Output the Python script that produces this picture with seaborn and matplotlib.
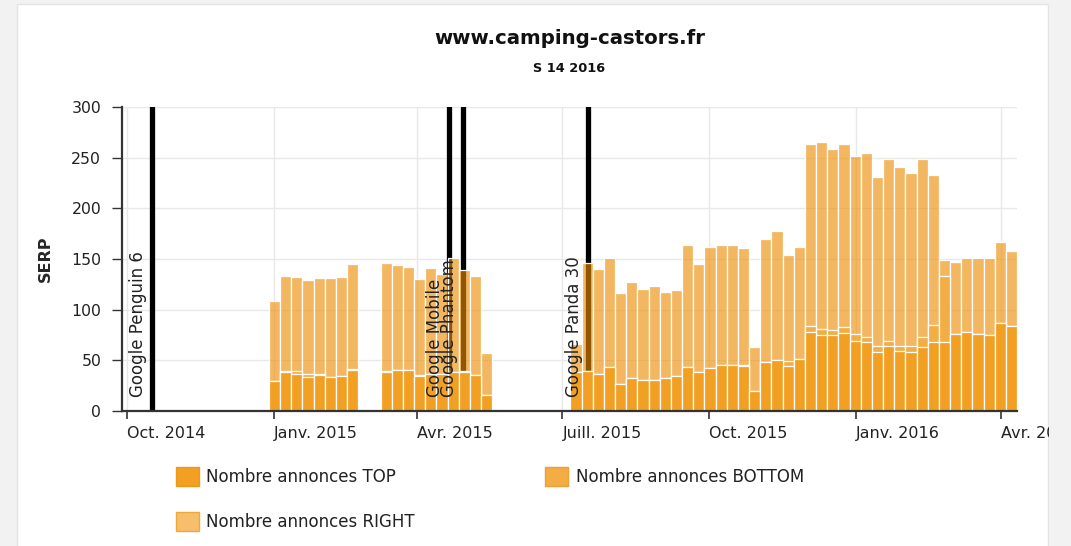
#!/usr/bin/env python3

"""Weekly ad counts (TOP / BOTTOM / RIGHT) for www.camping-castors.fr."""

import datetime as dt

import matplotlib
matplotlib.use('Agg')
import matplotlib.dates as mdates
import matplotlib.pyplot as plt
from matplotlib.patches import Patch, Rectangle
import numpy as np
import pandas as pd
import seaborn as sns


# ISO weeks that have data (gaps = no data)
WEEKS = (
    [f'2015-{w:02d}' for w in range(1, 9)]
    + [f'2015-{w:02d}' for w in range(11, 21)]
    + [f'2015-{w:02d}' for w in range(28, 54)]
    + [f'2016-{w:02d}' for w in range(1, 15)]
)

TOP = [
    30, 38, 37, 34, 36, 34, 35, 40,
    38, 40, 40, 35, 37, 37, 38, 38, 36, 16,
    38, 39, 37, 43, 27, 33, 31, 31, 33, 35, 43, 38, 42, 45, 45, 44, 20, 48, 50, 44, 51,
    78, 75, 75, 77, 69, 68, 58, 64, 59, 58, 63, 68, 68, 76, 78, 76, 75, 87, 84,
]
BOTTOM = [
    0, 1, 2, 3, 1, 0, 0, 1,
    1, 0, 0, 1, 0, 0, 0, 1, 0, 0,
    0, 0, 0, 0, 0, 0, 0, 0, 0, 0, 0, 0, 0, 0, 0, 1, 0, 0, 0, 5, 0,
    6, 6, 5, 6, 7, 5, 6, 5, 5, 6, 10, 17, 65, 0, 0, 0, 0, 0, 0,
]
RIGHT = [
    79, 94, 93, 92, 94, 97, 97, 104,
    107, 104, 102, 94, 104, 98, 113, 100, 97, 41,
    28, 107, 103, 108, 89, 94, 89, 92, 84, 84, 121, 107, 120, 119, 119, 116, 43, 122, 128, 105, 111,
    179, 184, 179, 180, 176, 182, 167, 180, 177, 171, 176, 148, 16, 71, 73, 75, 76, 80, 74,
]

SERIES = ['Nombre annonces TOP', 'Nombre annonces BOTTOM', 'Nombre annonces RIGHT']

UPDATES = ['Google Penguin 6', 'Google Mobile', 'Google Phantom', 'Google Panda 30']
UPDATE_DATES = ['2014-10-17', '2015-04-21', '2015-04-30', '2015-07-17']

TICK_DATES = ['2014-10-01', '2015-01-01', '2015-04-01', '2015-07-01',
              '2015-10-01', '2016-01-01', '2016-04-01']
TICK_LABELS = ['Oct. 2014', 'Janv. 2015', 'Avr. 2015', 'Juill. 2015',
               'Oct. 2015', 'Janv. 2016', 'Avr. 2016']

BG = '#f2f2f2'
C_TOP = '#f2a024'
C_BOTTOM = '#f3ad45'
C_RIGHT = '#ed8c02'
RIGHT_ALPHA = 0.62


def week_monday(label):
    year, week = label.split('-')
    return dt.date.fromisocalendar(int(year), int(week), 1)


def main():
    sns.set_style('white')
    plt.rcParams['font.family'] = ['DejaVu Sans']

    fig = plt.figure(figsize=(10.71, 5.46), dpi=100, facecolor=BG)
    panel = Rectangle((17 / 1071, -0.05), (1048 - 17) / 1071, 1.05 - 4 / 546,
                      transform=fig.transFigure, facecolor='white',
                      edgecolor='#e4e4e4', linewidth=1, zorder=-10)
    fig.patches.append(panel)
    # grey margin on the right sits above the axes, so the last tick label gets cut
    fig.patches.append(Rectangle((1048.5 / 1071, 0), 1, 1, transform=fig.transFigure,
                                 facecolor=BG, edgecolor='none', zorder=10))

    ax = fig.add_axes([122 / 1071, 1 - 411 / 546, (1017 - 122) / 1071, (411 - 107) / 546])
    ax.set_facecolor('none')

    mondays = [week_monday(w) for w in WEEKS]
    first = mdates.date2num(mondays[0])
    last = mdates.date2num(mondays[-1])
    edges = np.arange(first, last + 8, 7).tolist()

    df = pd.DataFrame({'center': mdates.date2num(mondays) + 3.5,
                       'top': TOP, 'bottom': BOTTOM, 'right': RIGHT})
    df['mid'] = df.top + df.bottom
    df['total'] = df.mid + df.right

    # update markers, behind the bars
    for date in UPDATE_DATES:
        ax.axvline(mdates.datestr2num(date), color='black', lw=3.8, zorder=0.8)

    bar_kws = dict(data=df, x='center', bins=edges, edgecolor='white', linewidth=0.9, ax=ax)
    sns.histplot(weights='total', color=C_RIGHT, alpha=RIGHT_ALPHA, **bar_kws)
    sns.histplot(weights='mid', color=C_BOTTOM, alpha=1, **bar_kws)
    sns.histplot(weights='top', color=C_TOP, alpha=1, **bar_kws)

    for name, date in zip(UPDATES, UPDATE_DATES):
        ax.annotate(name, xy=(mdates.datestr2num(date), 0), xytext=(-5, 14),
                    textcoords='offset pixels', rotation=90, ha='right',
                    va='bottom', fontsize=12, color='#222222', zorder=5)

    ax.set_xlim(mdates.datestr2num('2014-09-27 22:00'), last + 7)
    ax.set_ylim(0, 300)
    ax.set_yticks(range(0, 301, 50))
    ax.set_xticks(mdates.datestr2num(TICK_DATES))
    ax.set_xticklabels(TICK_LABELS, ha='left')
    ax.tick_params(axis='x', length=6, width=1.2, color='#333333', pad=5,
                   labelsize=11.5, labelcolor='#222222', bottom=True)
    ax.tick_params(axis='y', length=7, width=1, color='#333333', pad=8,
                   labelsize=11.3, labelcolor='#222222', left=True)
    ax.set_axisbelow(True)
    ax.grid(True, color='#e8e8e8', linewidth=1)
    ax.set_xlabel('')
    ax.set_ylabel('SERP', fontsize=11.5, fontweight='bold', labelpad=13)

    for side in ('top', 'right'):
        ax.spines[side].set_visible(False)
    for side in ('left', 'bottom'):
        ax.spines[side].set_color('#333333')
        ax.spines[side].set_linewidth(1.6)

    fig.text(569.5 / 1071, 1 - 38 / 546, 'www.camping-castors.fr', ha='center',
             va='center', fontsize=14.2, fontweight='bold', color='#111111')
    fig.text(569.5 / 1071, 1 - 68 / 546, 'S 14 2016', ha='center', va='center',
             fontsize=9.3, fontweight='bold', color='#111111')

    handles = [
        Patch(facecolor=C_TOP, edgecolor='#ec9a1c', label=SERIES[0]),
        Patch(facecolor='#f5bf6c', edgecolor='#f0a83a', label=SERIES[2]),
        Patch(facecolor=C_BOTTOM, edgecolor='#eea030', label=SERIES[1]),
    ]
    fig.legend(handles=handles, ncol=2, loc='upper left',
               bbox_to_anchor=(176 / 1071, 1 - 467 / 546), frameon=False,
               fontsize=12, handlelength=1.38, handleheight=1.38,
               handletextpad=0.45, columnspacing=7.8, labelspacing=1.55,
               borderpad=0, borderaxespad=0, labelcolor='#222222')

    fig.savefig('out.png', dpi=100, facecolor=fig.get_facecolor())


if __name__ == '__main__':
    main()
